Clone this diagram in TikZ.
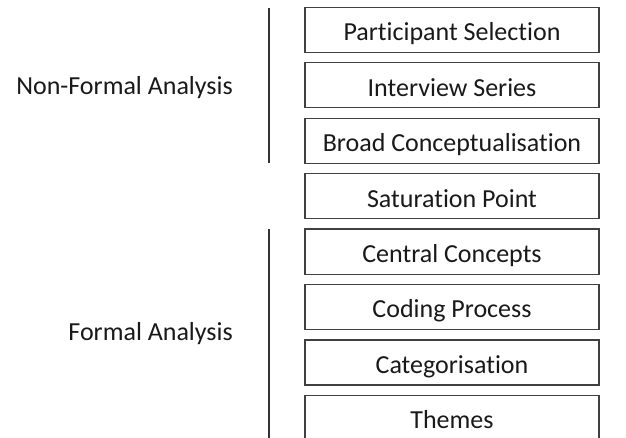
\documentclass[tikz,border=0pt]{standalone}
\usepackage{fontspec}
\setmainfont{Carlito}[RawFeature={-liga}]
\begin{document}
\begin{tikzpicture}[x=1pt,y=-1pt,
  stagebox/.style={draw=black!75, line width=1.2pt, minimum width=294pt, minimum height=45pt,
    inner sep=0pt, text height=24pt, text depth=2.2pt,
    font=\fontsize{26}{28}\selectfont, text=black!90},
  phaselabel/.style={anchor=base east, inner sep=0pt, font=\fontsize{26}{28}\selectfont, text=black!90},
  bracket/.style={draw=black!80, line width=1.3pt}]
\useasboundingbox (0,0) rectangle (626,438);
% stacked stages
\foreach \t [count=\i from 0] in {Participant Selection,Interview Series,Broad Conceptualisation,Saturation Point,Central Concepts,Coding Process,Categorisation,Themes}{
  \node[stagebox] (s\i) at (452,{30+55.4*\i}) {\t};
}
% phase brackets
\coordinate (a1) at (269,8);
\coordinate (a2) at (269,163);
\coordinate (b1) at (269,229);
\coordinate (b2) at (269,438);
\draw[bracket] (a1) -- (a2);
\draw[bracket] (b1) -- (b2);
% phase labels
\node[phaselabel] (nf) at (233,95) {Non-Formal Analysis};
\node[phaselabel] (fa) at (233,340) {Formal Analysis};
\end{tikzpicture}
\end{document}
